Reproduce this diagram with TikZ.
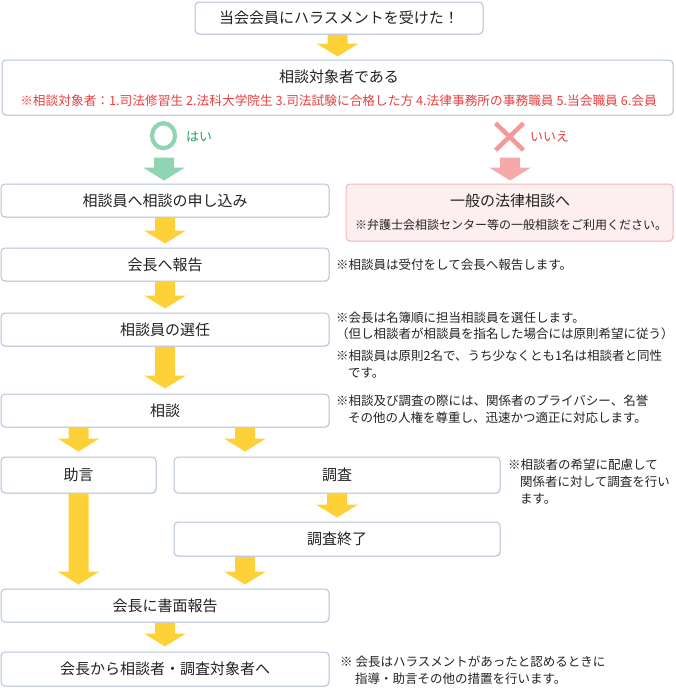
\documentclass[tikz,border=0pt]{standalone}
\usepackage{fontspec}
\setmainfont{Noto Sans CJK JP}
\usetikzlibrary{calc,shadows,backgrounds,shapes.geometric}
\definecolor{bordc}{HTML}{B4C2D6}
\definecolor{yel}{HTML}{FFD139}
\definecolor{grn}{HTML}{90D4B2}
\definecolor{grntxt}{HTML}{2E9B5E}
\definecolor{pnk}{HTML}{F5A9A9}
\definecolor{pnkx}{HTML}{F29A9A}
\definecolor{pnkfill}{HTML}{FDEFEF}
\definecolor{pnkbord}{HTML}{F2B8B8}
\definecolor{redtxt}{HTML}{E8403F}
\definecolor{txt}{HTML}{222222}
\newcommand\barrow[3][yel]{%
  \fill[#1] let \p1=(#2), \p2=(#3) in
  (\x1-10pt,\y1) -- (\x1+10pt,\y1) -- (\x1+10pt,\y2+13pt) -- (\x1+21pt,\y2+13pt)
  -- (\x1,\y2) -- (\x1-21pt,\y2+13pt) -- (\x1-10pt,\y2+13pt) -- cycle;}
\begin{document}
\begin{tikzpicture}[x=1pt,y=-1pt,
  box/.style={draw=bordc, line width=1pt, fill=white, rounded corners=4pt, inner sep=0pt,
    font=\fontsize{15}{17}\selectfont, text=txt,
    drop shadow={shadow xshift=0.6pt, shadow yshift=-0.9pt, fill=black!14}},
  pbox/.style={box, draw=pnkbord, fill=pnkfill},
  title/.style={inner sep=0pt, font=\fontsize{15}{17}\selectfont, text=txt},
  note/.style={anchor=west, inner sep=0pt, font=\fontsize{12.5}{14}\selectfont, text=txt},
]
\useasboundingbox (0,0) rectangle (675,688);

% boxes
\node[box, minimum width=288pt, minimum height=32pt] (victim) at (339,18) {当会会員にハラスメントを受けた！};
\node[box, minimum width=671pt, minimum height=55pt] (target) at (337.5,87.5) {};
\node[title] (targetT) at (339,77) {相談対象者である};
\node[inner sep=0pt, font=\fontsize{12.7}{14}\selectfont, text=redtxt] (targetN) at (338.5,100.5)
  {※相談対象者：1.司法修習生 2.法科大学院生 3.司法試験に合格した方 4.法律事務所の事務職員 5.当会職員 6.会員};

\node[draw=grn, line width=4.2pt, ellipse, minimum width=23pt, minimum height=25pt, inner sep=0pt] (maru) at (163.5,135.7) {};
\node[anchor=west, inner sep=0pt, text=grntxt, font=\fontsize{13}{15}\selectfont] (yes) at (186,136.5) {はい};
\coordinate (batsu) at (509.5,136.7);
\draw[pnkx, line width=4.5pt] ($(batsu)+(-14,-13.5)$) -- ($(batsu)+(14,13.5)$)
  ($(batsu)+(14,-13.5)$) -- ($(batsu)+(-14,13.5)$);
\node[anchor=west, inner sep=0pt, text=redtxt, font=\fontsize{13}{15}\selectfont] (no) at (530,136.5) {いいえ};

\node[box, minimum width=328pt, minimum height=33pt] (apply) at (165,200.5) {相談員へ相談の申し込み};
\node[pbox, minimum width=327pt, minimum height=57pt] (general) at (509.5,212.5) {};
\node[title] (generalT) at (510,201) {一般の法律相談へ};
\node[inner sep=0pt, font=\fontsize{12}{14}\selectfont, text=txt] (generalN) at (511,224.5) {※弁護士会相談センター等の一般相談をご利用ください。};

\node[box, minimum width=328pt, minimum height=33pt] (report) at (165,264.5) {会長へ報告};
\node[box, minimum width=328pt, minimum height=33pt] (select) at (165,329.5) {相談員の選任};
\node[box, minimum width=328pt, minimum height=33pt] (consult) at (165,410.5) {相談};
\node[box, minimum width=155pt, minimum height=36pt] (advice) at (78.5,475) {助言};
\node[box, minimum width=326pt, minimum height=36pt] (invest) at (337,475) {調査};
\node[box, minimum width=326pt, minimum height=34pt] (investend) at (337,539) {調査終了};
\node[box, minimum width=328pt, minimum height=33pt] (written) at (165,605.5) {会長に書面報告};
\node[box, minimum width=328pt, minimum height=34pt] (final) at (165,669) {会長から相談者・調査対象者へ};

% notes
\node[note] (n1) at (336,265) {※相談員は受付をして会長へ報告します。};
\node[note] (n2) at (336,318) {※会長は名簿順に担当相談員を選任します。};
\node[note] (n3) at (336,334) {（但し相談者が相談員を指名した場合には原則希望に従う）};
\node[note] (n4) at (336,356) {※相談員は原則2名で、うち少なくとも1名は相談者と同性};
\node[note] (n5) at (348,373) {です。};
\node[note] (n6) at (336,401) {※相談及び調査の際には、関係者のプライバシー、名誉};
\node[note] (n7) at (348,418) {その他の人権を尊重し、迅速かつ適正に対応します。};
\node[note] (n8) at (508,465) {※相談者の希望に配慮して};
\node[note] (n9) at (520,482) {関係者に対して調査を行い};
\node[note] (n10) at (520,499) {ます。};
\node[note] (n11) at (340,662) {※ 会長はハラスメントがあったと認めるときに};
\node[note] (n12) at (355,679) {指導・助言その他の措置を行います。};

\coordinate (xr) at (245,0);
% arrows
\begin{pgfonlayer}{background}
\barrow{$(victim.south)+(-1.5,0)$}{$(target.north)+(0,-3)$}
\barrow[grn]{$(apply.north)+(-1,-26)$}{$(apply.north)+(-1,-3)$}
\barrow[pnk]{$(general.north)+(0.5,-26)$}{$(general.north)+(0.5,-3)$}
\barrow{apply.south}{$(report.north)+(0,-4)$}
\barrow{report.south}{$(select.north)+(0,-4)$}
\barrow{select.south}{$(consult.north)+(0,-5)$}
\barrow{advice.north |- consult.south}{$(advice.north)+(0,-5)$}
\barrow{xr |- consult.south}{$(xr |- invest.north)+(0,-5)$}
\barrow{invest.south}{$(investend.north)+(0,-4)$}
\barrow{advice.south}{$(advice.south |- written.north)+(0,-4)$}
\barrow{xr |- investend.south}{$(xr |- written.north)+(0,-4)$}
\barrow{written.south}{$(final.north)+(0,-5)$}
\end{pgfonlayer}
\end{tikzpicture}
\end{document}
